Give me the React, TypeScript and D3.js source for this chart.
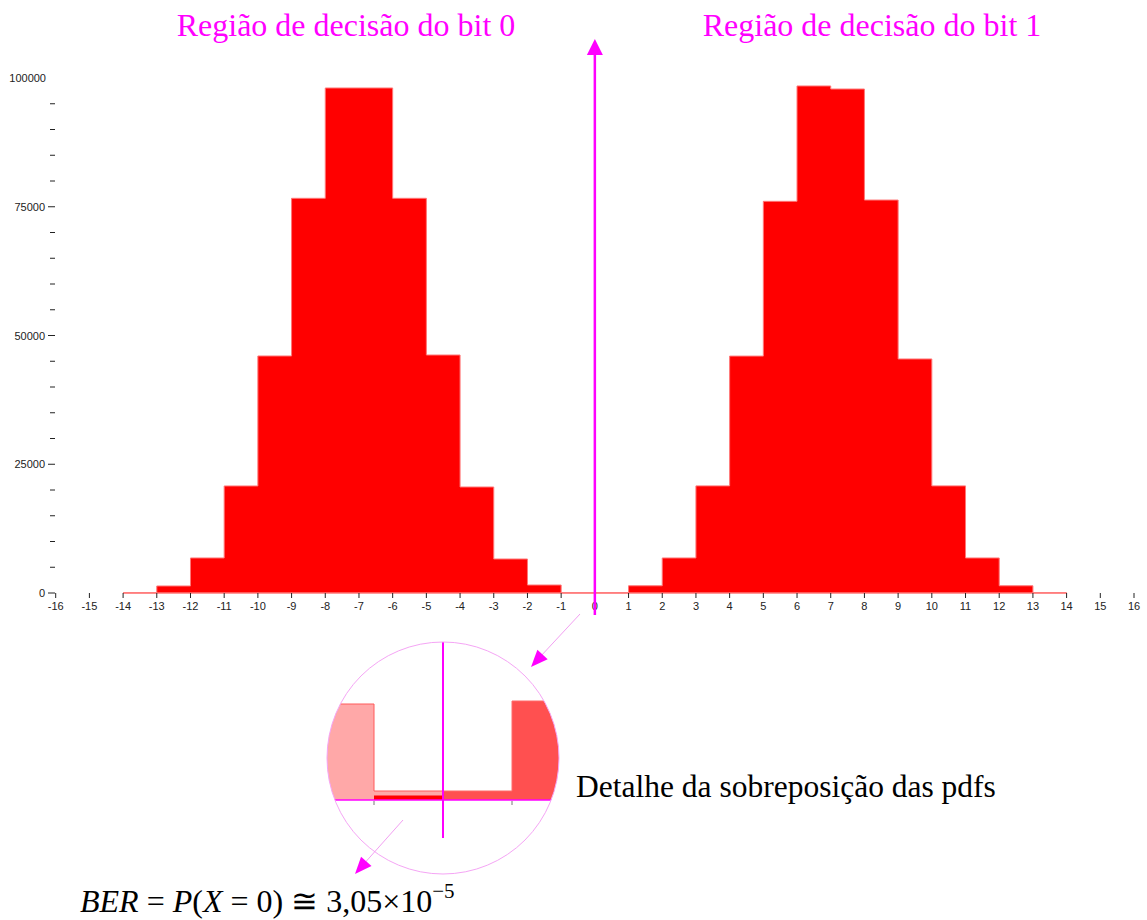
import React from "react";
import * as d3 from "d3";

// Histogram bins (width 1) for the received symbol given bit 0 / bit 1
const bit0Edges = [-14, -13, -12, -11, -10, -9, -8, -7, -6, -5, -4, -3, -2, -1];
const bit0Counts = [30, 1360, 6800, 20780, 46020, 76640, 98060, 98060, 76640, 46210, 20580, 6600, 1550, 30];
const bit1Edges = [0, 1, 2, 3, 4, 5, 6, 7, 8, 9, 10, 11, 12, 13];
const bit1Counts = [30, 1400, 6800, 20800, 46000, 76050, 98450, 97860, 76300, 45440, 20800, 6800, 1400, 30];

const xTicks = d3.range(-16, 17);
const yMajorTicks = [0, 25000, 50000, 75000, 100000];
const yMinorTicks = d3.range(0, 100001, 5000).filter((v) => v % 25000 !== 0);

// Magnified overlap around the threshold (relative heights, zoomed)
const insetEdges0 = [-3, -2, -1];
const insetBit0 = [96, 96, 9];
const insetEdges1 = [0, 1, 2];
const insetBit1 = [9, 99, 99];
const insetOverlap = [{ x0: -1, x1: 0, v: 4.5 }];
const insetTicks = [-1, 1];

const MAGENTA = "#ff00ff";

function stepPoints(edges: number[], counts: number[]) {
  const pts = edges.map((e, i) => ({ x: e, v: counts[i] }));
  pts.push({ x: edges[edges.length - 1] + 1, v: counts[counts.length - 1] });
  return pts;
}

function arrowHead(tipX: number, tipY: number, fromX: number, fromY: number, len: number, half: number) {
  const ang = Math.atan2(tipY - fromY, tipX - fromX);
  const bx = tipX - len * Math.cos(ang);
  const by = tipY - len * Math.sin(ang);
  const px = -Math.sin(ang) * half;
  const py = Math.cos(ang) * half;
  return `M${tipX},${tipY}L${bx + px},${by + py}L${bx - px},${by - py}Z`;
}

export default function App() {
  const width = 1147;
  const height = 920;

  const x = d3.scaleLinear().domain([-16, 16]).range([55.7, 1134]);
  const y = d3.scaleLinear().domain([0, 100000]).range([593, 78]);

  const area = d3
    .area<{ x: number; v: number }>()
    .x((d) => x(d.x))
    .y0(y(0))
    .y1((d) => y(d.v))
    .curve(d3.curveStepAfter);
  const line = d3
    .line<{ x: number; v: number }>()
    .x((d) => x(d.x))
    .y((d) => y(d.v))
    .curve(d3.curveStepAfter);

  const p0 = stepPoints(bit0Edges, bit0Counts);
  const p1 = stepPoints(bit1Edges, bit1Counts);

  // inset
  const cx = 443;
  const cy = 758;
  const r = 116;
  const ix = d3.scaleLinear().domain([0, 1]).range([cx, cx + 69]);
  const iy = d3.scaleLinear().domain([0, 100]).range([800, 700]);
  const iArea = d3
    .area<{ x: number; v: number }>()
    .x((d) => ix(d.x))
    .y0(iy(0))
    .y1((d) => iy(d.v))
    .curve(d3.curveStepAfter);
  const iLine = d3
    .line<{ x: number; v: number }>()
    .x((d) => ix(d.x))
    .y((d) => iy(d.v))
    .curve(d3.curveStepAfter);
  const ip0 = stepPoints(insetEdges0, insetBit0);
  const ip1 = stepPoints(insetEdges1, insetBit1);

  const serif = "'Liberation Serif', 'DejaVu Serif', serif";
  const sans = "'Liberation Sans', Arial, sans-serif";

  const axisX = x(0);

  return (
    <svg width={width} height={height} style={{ position: "absolute", left: 0, top: 0 }}>
      <rect width={width} height={height} fill="#fff" />

      {/* titles */}
      <text x={346} y={36} textAnchor="middle" fontFamily={serif} fontSize={32} fill={MAGENTA}>
        Região de decisão do bit 0
      </text>
      <text x={872} y={36} textAnchor="middle" fontFamily={serif} fontSize={32} fill={MAGENTA}>
        Região de decisão do bit 1
      </text>

      {/* histograms */}
      <path d={area(p0) || ""} fill="#ff0000" />
      <path d={line(p0) || ""} fill="none" stroke="#f77" strokeWidth={1} />
      <path d={area(p1) || ""} fill="#ff0000" />
      <path d={line(p1) || ""} fill="none" stroke="#f77" strokeWidth={1} />
      <line x1={x(-14)} x2={x(14)} y1={y(0)} y2={y(0)} stroke="#f77" strokeWidth={1.5} />

      {/* y axis */}
      {yMajorTicks.map((v) => (
        <g key={"ym" + v}>
          {v !== 100000 && <line x1={48} x2={55} y1={y(v)} y2={y(v)} stroke="#222" strokeWidth={1} />}
          <text x={v === 100000 ? 46 : 45} y={y(v) + 4} textAnchor="end" fontFamily={sans} fontSize={11} fill="#222">
            {v}
          </text>
        </g>
      ))}
      {yMinorTicks.map((v) => (
        <line key={"yn" + v} x1={50} x2={55} y1={y(v)} y2={y(v)} stroke="#222" strokeWidth={1} />
      ))}

      {/* x axis ticks */}
      {xTicks.map((t) => (
        <g key={"xt" + t}>
          <line x1={x(t)} x2={x(t)} y1={y(0)} y2={y(0) + 5} stroke="#222" strokeWidth={1} />
          <text x={x(t)} y={y(0) + 17} textAnchor="middle" fontFamily={sans} fontSize={11} fill="#222">
            {t}
          </text>
        </g>
      ))}

      {/* decision threshold */}
      <line x1={axisX} x2={axisX} y1={615} y2={52} stroke={MAGENTA} strokeWidth={2.5} />
      <path d={`M${axisX},39L${axisX - 8},55L${axisX + 8},55Z`} fill={MAGENTA} />

      {/* pointer from threshold to inset */}
      <line x1={580} y1={614} x2={540} y2={657} stroke="#f2a0f2" strokeWidth={1} />
      <path d={arrowHead(531, 667, 580, 614, 17, 7)} fill={MAGENTA} />

      {/* inset */}
      <defs>
        <clipPath id="insetClip">
          <circle cx={cx} cy={cy} r={r} />
        </clipPath>
      </defs>
      <g clipPath="url(#insetClip)">
        <path d={iArea(ip0) || ""} fill="#ffa8a8" />
        <path d={iLine(ip0) || ""} fill="none" stroke="#ff5a5a" strokeWidth={1} />
        <path d={iArea(ip1) || ""} fill="#ff5050" />
        <path d={iLine(ip1) || ""} fill="none" stroke="#ff6a6a" strokeWidth={1} />
        {insetOverlap.map((o, i) => (
          <rect key={i} x={ix(o.x0)} width={ix(o.x1) - ix(o.x0)} y={iy(o.v)} height={iy(0) - iy(o.v)} fill="#ff0000" />
        ))}
        <line x1={cx - r} x2={cx + r} y1={iy(0)} y2={iy(0)} stroke={MAGENTA} strokeWidth={1.5} />
      </g>
      {insetTicks.map((t) => (
        <line key={"it" + t} x1={ix(t)} x2={ix(t)} y1={iy(0) + 1} y2={iy(0) + 5} stroke="#777" strokeWidth={1} />
      ))}
      <line x1={cx} x2={cx} y1={642} y2={838} stroke={MAGENTA} strokeWidth={2} />
      <circle cx={cx} cy={cy} r={r} fill="none" stroke="#f5a5f5" strokeWidth={1} />

      {/* pointer from inset to BER */}
      <line x1={403} y1={820} x2={362} y2={866} stroke="#f2a0f2" strokeWidth={1} />
      <path d={arrowHead(355, 874, 403, 820, 17, 7)} fill={MAGENTA} />

      <text x={576} y={797} fontFamily={serif} fontSize={31.5} fill="#000">
        Detalhe da sobreposição das pdfs
      </text>

      <text x={80} y={912} fontFamily={serif} fontSize={32} fill="#000">
        <tspan fontStyle="italic">BER</tspan>
        <tspan> = </tspan>
        <tspan fontStyle="italic">P</tspan>
        <tspan>(</tspan>
        <tspan fontStyle="italic">X</tspan>
        <tspan> = 0) ≅ 3,05×10</tspan>
        <tspan dy={-14} fontSize={21}>−5</tspan>
      </text>
    </svg>
  );
}
